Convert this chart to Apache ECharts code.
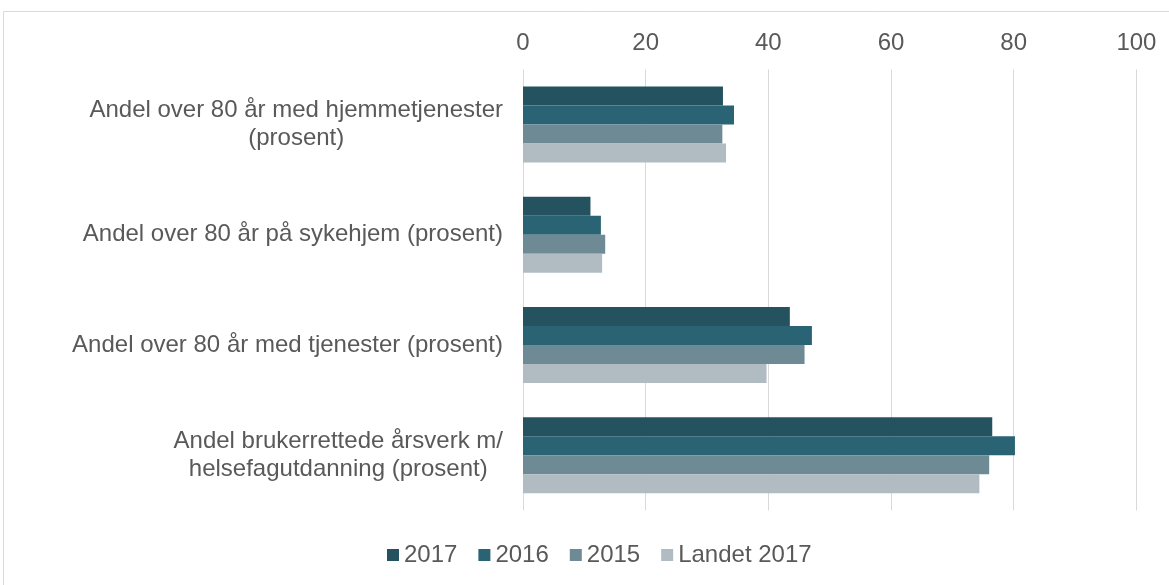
<!DOCTYPE html>
<html>
<head>
<meta charset="utf-8">
<script src="https://cdn.jsdelivr.net/npm/echarts@6/dist/echarts.min.js"></script>
<style>html,body{margin:0;padding:0;background:#fff}#c{width:1169px;height:585px}</style>
</head>
<body>
<div id="c"></div>
<script>
const categories = [
  'Andel over 80 år med hjemmetjenester\n(prosent)',
  'Andel over 80 år på sykehjem (prosent)',
  'Andel over 80 år med tjenester (prosent)',
  'Andel brukerrettede årsverk m/\nhelsefagutdanning (prosent)'
];
const seriesNames = ['2017', '2016', '2015', 'Landet 2017'];
const v2017 = [32.6, 11.0, 43.5, 76.5];
const v2016 = [34.4, 12.7, 47.1, 80.2];
const v2015 = [32.5, 13.4, 45.9, 76.0];
const vLandet = [33.1, 12.9, 39.7, 74.4];
const xTicks = [0, 20, 40, 60, 80, 100];
const colors = ['#24535F', '#2A6373', '#6E8A95', '#B1BCC2'];

const values = [v2017, v2016, v2015, vLandet];
const font = '"Liberation Sans", Arial, sans-serif';
const chart = echarts.init(document.getElementById('c'));
chart.setOption({
  animation: false,
  backgroundColor: '#fff',
  graphic: [{
    type: 'rect', shape: {x: 3.5, y: 11.5, width: 1180, height: 590},
    style: {fill: 'none', stroke: '#D9D9D9', lineWidth: 1}, z: -1
  }],
  grid: {left: 523, right: 32.6, top: 69.4, bottom: 74.6, containLabel: false},
  legend: {
    data: seriesNames, left: 382, top: 538,
    itemWidth: 12, itemHeight: 12, itemGap: 21, icon: 'rect',
    textStyle: {color: '#595959', fontSize: 24, fontFamily: font}
  },
  xAxis: {
    type: 'value', position: 'top', min: xTicks[0], max: xTicks[xTicks.length - 1], interval: 20,
    axisLine: {show: false}, axisTick: {show: false},
    splitLine: {lineStyle: {color: '#D9D9D9', width: 1}},
    axisLabel: {color: '#595959', fontSize: 24, fontFamily: font, margin: 14}
  },
  yAxis: {
    type: 'category', data: categories, inverse: true,
    axisLine: {show: false}, axisTick: {show: false},
    axisLabel: {
      color: '#595959', fontSize: 24, fontFamily: font, margin: 20, align: 'right',
      lineHeight: 28,
      formatter: function (v) {
        return v.split('\n').map(function (l) { return '{c|' + l + '}'; }).join('\n');
      },
      rich: {c: {align: 'center', color: '#595959', fontSize: 24, fontFamily: font, lineHeight: 28}}
    }
  },
  series: seriesNames.map(function (n, i) {
    return {
      name: n, type: 'bar', data: values[i],
      itemStyle: {color: colors[i]},
      barGap: '0%', barCategoryGap: '31%'
    };
  })
});
</script>
</body>
</html>
